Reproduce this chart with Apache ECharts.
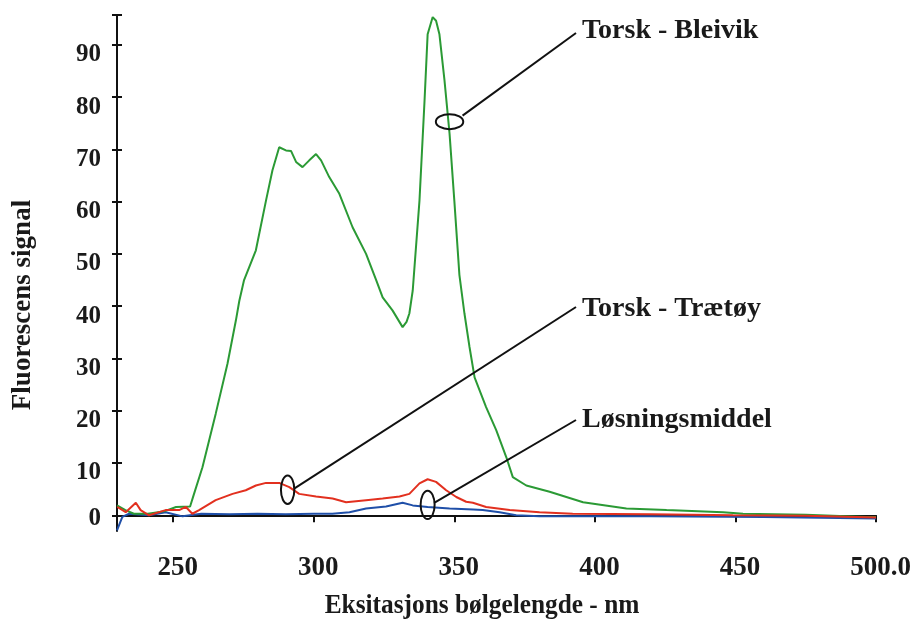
<!DOCTYPE html>
<html>
<head>
<meta charset="utf-8">
<script src="https://cdn.jsdelivr.net/npm/echarts@6/dist/echarts.min.js"></script>
<style>
html,body{margin:0;padding:0;background:#fff;}
#c{width:918px;height:622px;}
</style>
</head>
<body>
<div id="c"></div>
<script>
// ---- data ----
const xTicks = [230, 250, 300, 350, 400, 450, 500];
const xLabels = [250, 300, 350, 400, 450, 500];
const yLabels = [0, 10, 20, 30, 40, 50, 60, 70, 80, 90];
const yTicks = [0, 10, 20, 30, 40, 50, 60, 70, 80, 90, 95.7];

const bleivikX = [230,233,236,241,247,251,256,257.4,260.4,265.1,269.3,272.3,273.5,275.2,279.4,283,285.3,287.7,290.1,291.9,293.7,296,298.4,300.8,302.6,305.5,309.1,313.8,318.6,322.2,324.5,328,331.6,333,334,335.2,337.6,339.4,340.5,342.3,343.5,344.7,346.5,348.3,350,351.8,353.6,355.4,357.2,361.3,364.9,368.5,370.8,375.6,383.9,395.8,411.2,425.5,445.6,452.7,475,496.7,500];
const bleivikY = [1.9,1.0,0.3,0.3,0.8,1.6,1.7,4.1,9.2,19.4,29,37.3,41,45,50.7,60.2,66,70.4,69.8,69.7,67.6,66.6,67.9,69.1,67.9,64.7,61.5,55.1,50,45,41.7,39.2,36,37,38.6,43,60.2,79.3,92,95.3,94.6,92,83.2,73,60.2,46,38.6,32.2,26.4,20.7,16.3,11.1,7.3,5.7,4.5,2.5,1.3,1.0,0.6,0.3,0.1,-0.3,-0.3];

const traetoyX = [230.1,233.1,236.7,238.4,241.4,247.3,252.1,254.5,256.8,259.2,265.1,271.1,275.8,279.4,283,287.7,291.3,294.8,300.8,306.7,311.5,318.6,324.5,330.5,334,337.6,340.5,343.5,347.1,350.7,354.2,356.6,361.3,369.7,380.3,392.1,420,449.1,475,500];
const traetoyY = [1.6,0.6,2.4,1.0,0,1.0,1.0,1.6,0.3,1.0,2.9,4.1,4.8,5.7,6.2,6.2,5.4,4.1,3.6,3.2,2.5,2.9,3.2,3.6,4.1,6.1,6.9,6.4,4.8,3.5,2.6,2.4,1.6,1.0,0.6,0.3,0.2,0,-0.1,-0.4];

const losningX = [230,231.9,234.3,241.4,247.3,253.3,260,270,280,290,300,306.6,312.7,318.6,325.7,331.6,335.2,340.5,348.3,356.7,360.1,366.1,372,380.3,420,460,500];
const losningY = [-2.9,-0.3,0.3,0,0.6,-0.2,0.3,0.2,0.3,0.2,0.3,0.3,0.6,1.3,1.7,2.4,1.9,1.6,1.3,1.1,1.0,0.6,0,-0.2,-0.2,-0.3,-0.6];

const seriesNames = ['Torsk - Bleivik', 'Torsk - Trætøy', 'Løsningsmiddel'];
// annotation anchors (ellipse centres, data coords)
const annotAnchor = [[348.3, 75.3], [290.7, 4.9], [340.5, 2.0]];

const FONT = "'Liberation Serif','Times New Roman',serif";
const zip = (xs, ys) => xs.map((x, i) => [x, ys[i]]);
const txt = {color: '#1a1a1a', fontFamily: FONT, fontWeight: 'bold'};

const chart = echarts.init(document.getElementById('c'), null, {renderer: 'canvas'});
const axisLineStyle = {color: '#111', width: 2};
chart.setOption({
  animation: false,
  backgroundColor: '#fff',
  grid: {left: 117, right: 42, top: 15, bottom: 91, containLabel: false},
  xAxis: {
    type: 'value', min: 230, max: 500,
    axisLine: {show: true, lineStyle: axisLineStyle},
    axisTick: {show: true, length: 7, customValues: xTicks, lineStyle: {color: '#111', width: 2}},
    axisLabel: {customValues: xLabels, margin: 24,
      formatter: v => '{a|' + (v === 500 ? '500.0' : String(v)) + '}',
      rich: {a: Object.assign({fontSize: 27, padding: [0, 0, 0, 9]}, txt)}},
    splitLine: {show: false}
  },
  yAxis: [{
    type: 'value', min: -3, max: 95.7,
    axisLine: {show: true, lineStyle: axisLineStyle},
    axisTick: {show: true, length: 5, customValues: yTicks, lineStyle: {color: '#111', width: 2}},
    axisLabel: {customValues: yLabels, margin: 16, verticalAlign: 'top',
      formatter: v => v === 0 ? '{z|0}' : '{n|' + v + '}',
      rich: {n: Object.assign({fontSize: 25, lineHeight: 20}, txt), z: Object.assign({fontSize: 25, lineHeight: 7}, txt)}},
    splitLine: {show: false}
  }, {
    type: 'value', min: -3, max: 95.7, position: 'left',
    axisLine: {show: false},
    axisTick: {show: true, inside: true, length: 5, customValues: yTicks, lineStyle: {color: '#111', width: 2}},
    axisLabel: {show: false},
    splitLine: {show: false}
  }],
  series: [
    {name: seriesNames[0], type: 'line', data: zip(bleivikX, bleivikY), showSymbol: false, lineStyle: {color: '#2b9a35', width: 2}, z: 3},
    {name: seriesNames[1], type: 'line', data: zip(traetoyX, traetoyY), showSymbol: false, lineStyle: {color: '#e2301f', width: 2}, z: 4},
    {name: seriesNames[2], type: 'line', data: zip(losningX, losningY), showSymbol: false, lineStyle: {color: '#1f4fa8', width: 2}, z: 2}
  ]
});

// annotations
const ell = [{rx: 13.7, ry: 7.5}, {rx: 6.7, ry: 14.2}, {rx: 7, ry: 14.2}];
const lineStart = [[13, -6], [6.5, -1], [6.5, -2]];
const textPos = [[582, 31], [582, 309], [582, 420]];
const lineEnd = [[576, 33], [576, 307], [576, 420]];
const g = [];
annotAnchor.forEach((a, i) => {
  const p = chart.convertToPixel({gridIndex: 0}, a);
  g.push({type: 'ellipse', shape: {cx: p[0], cy: p[1], rx: ell[i].rx, ry: ell[i].ry},
    style: {fill: null, stroke: '#111', lineWidth: 2}, z: 100});
  g.push({type: 'line', shape: {x1: p[0] + lineStart[i][0], y1: p[1] + lineStart[i][1], x2: lineEnd[i][0], y2: lineEnd[i][1]},
    style: {stroke: '#111', lineWidth: 2}, z: 100});
  g.push({type: 'text', x: textPos[i][0], y: textPos[i][1],
    style: {text: seriesNames[i], fill: '#1a1a1a', font: "bold 28px " + FONT, textAlign: 'left', textVerticalAlign: 'middle'}, z: 100});
});
g.push({type: 'text', x: 482, y: 606, scaleX: 0.905, style: {text: 'Eksitasjons bølgelengde - nm', fill: '#1a1a1a', font: 'bold 28px ' + FONT, textAlign: 'center', textVerticalAlign: 'middle'}});
g.push({type: 'text', x: 23, y: 305, rotation: Math.PI / 2, style: {text: 'Fluorescens signal', fill: '#1a1a1a', font: 'bold 27px ' + FONT, textAlign: 'center', textVerticalAlign: 'middle'}});
chart.setOption({graphic: g});
</script>
</body>
</html>
